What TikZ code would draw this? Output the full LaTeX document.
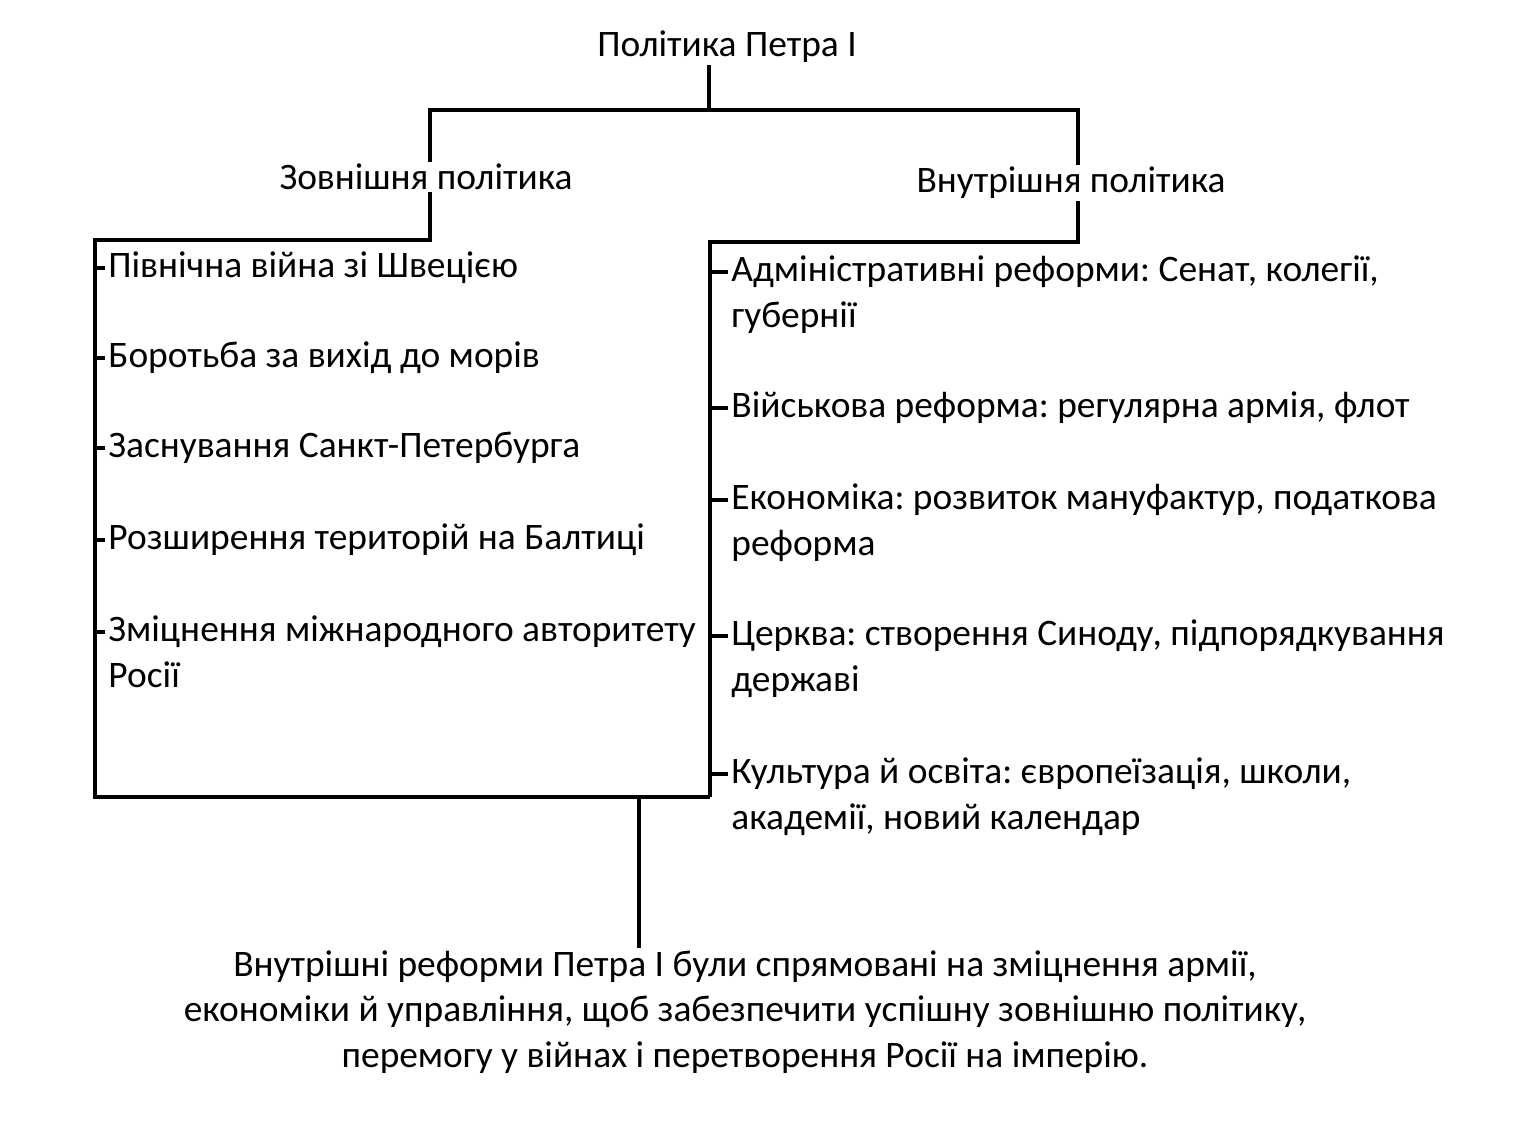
\documentclass[tikz,border=0pt]{standalone}
\usepackage{fontspec}
\setmainfont{Carlito}
\frenchspacing

\begin{document}
\begin{tikzpicture}[x=0.5pt, y=-0.5pt, font=\fontsize{18.7}{22.8}\selectfont,
    line/.style={line width=2.3pt},
    item/.style={anchor=base west, align=left, inner sep=0pt}]
    \useasboundingbox (0,0) rectangle (1516,1121);

    \node[inner sep=1pt] (title) at (727,47) {Політика Петра I};
    \node[inner sep=1pt] (ext) at (426,177) {Зовнішня політика};
    \node[inner sep=1pt] (int) at (1071,183) {Внутрішня політика};

    \coordinate (top) at (709,110);
    \coordinate (exttop) at (430,110);
    \coordinate (inttop) at (1078,110);
    \coordinate (extbox) at (430,240);
    \coordinate (intbox) at (1078,242);
    \coordinate (stem) at (639,797);

    \draw[line] (top |- title.south) -- (top);
    \draw[line] (exttop |- ext.north) -- (exttop) -- (inttop) -- (inttop |- int.north);
    \draw[line] (extbox |- ext.south) -- (extbox) -- (95,240) -- (95,797) -- (710,797);
    \draw[line] (intbox |- int.south) -- (intbox) -- (710,242) -- (710,797);

    % zovnishnia (base = last line)
    \node[item] (l1) at (108,277) {Північна війна зі Швецією};
    \node[item] (l2) at (108,367) {Боротьба за вихід до морів};
    \node[item] (l3) at (108,457) {Заснування Санкт-Петербурга};
    \node[item] (l4) at (108,549) {Розширення територій на Балтиці};
    \node[item] (l5) at (108,687) {Зміцнення міжнародного авторитету\\Росії};

    \foreach \i/\y in {1/268, 2/358, 3/448, 4/540, 5/632} {
        \coordinate (lt\i) at (95,\y);
        \draw[line] (lt\i) -- ([xshift=-1.5pt]lt\i -| l\i.west);
    }

    % vnutrishnia
    \node[item] (r1) at (731,327) {Адміністративні реформи: Сенат, колегії,\\губернії};
    \node[item] (r2) at (731,417) {Військова реформа: регулярна армія, флот};
    \node[item] (r3) at (731,555) {Економіка: розвиток мануфактур, податкова\\реформа};
    \node[item] (r4) at (731,691) {Церква: створення Синоду, підпорядкування\\державі};
    \node[item] (r5) at (731,829) {Культура й освіта: європеїзація, школи,\\академії, новий календар};

    \foreach \i/\y in {1/272, 2/408, 3/500, 4/636, 5/774} {
        \coordinate (rt\i) at (710,\y);
        \draw[line] (rt\i) -- ([xshift=-1.5pt]rt\i -| r\i.west);
    }

    \node[align=center, inner sep=1pt] (summary) at (745,1012) {Внутрішні реформи Петра I були спрямовані на зміцнення армії,\\економіки й управління, щоб забезпечити успішну зовнішню політику,\\перемогу у війнах і перетворення Росії на імперію.};
    \draw[line] (stem) -- (stem |- summary.north);
\end{tikzpicture}
\end{document}
